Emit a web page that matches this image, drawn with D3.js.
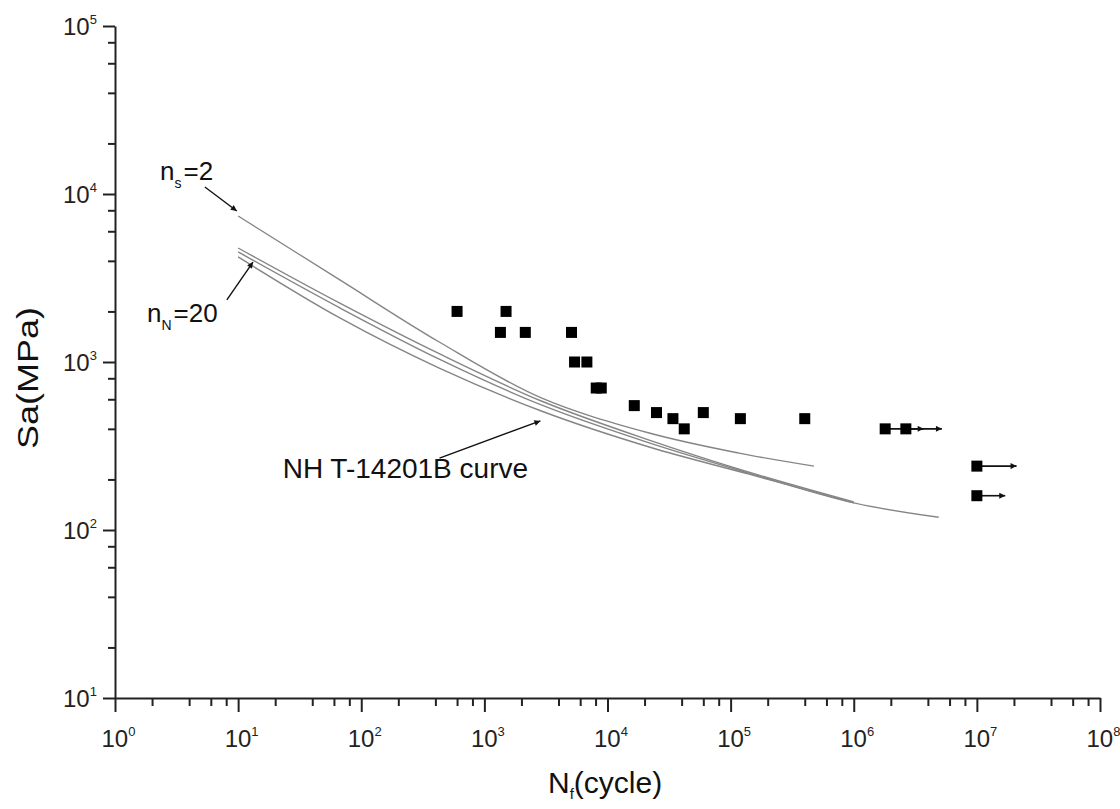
<!DOCTYPE html>
<html>
<head>
<meta charset="utf-8">
<script src="https://cdn.jsdelivr.net/npm/d3@7"></script>
<style>
  html, body { margin: 0; padding: 0; background: #fff; }
  svg { display: block; }
  text { font-family: "Liberation Sans", Arial, Helvetica, sans-serif; fill: #111; }
</style>
</head>
<body>
<svg id="chart" width="1120" height="809"></svg>
<script>
// ---------------- data ----------------
const xTickExps = [0, 1, 2, 3, 4, 5, 6, 7, 8];
const yTickExps = [1, 2, 3, 4, 5];
const minorMultipliers = [2, 4, 6, 8];

// experimental fatigue points
const testN = [600, 1500, 1350, 2150, 5100, 5400, 6800, 8100, 8900, 16500, 25000, 34000, 42000, 60000, 120000, 400000, 1.8e6, 2.65e6, 1e7, 1e7];
const testS = [2000, 2000, 1500, 1500, 1500, 1000, 1000, 700, 700, 550, 500, 460, 400, 500, 460, 460, 400, 400, 240, 160];

// run-outs (arrows)
const runoutN = [1.8e6, 2.65e6, 1e7, 1e7];
const runoutS = [400, 400, 240, 160];
const runoutEndN = [3.7e6, 5.2e6, 2.1e7, 1.7e7];

// design curves
const curveA_N = [10, 67, 430, 2900, 21800, 117000, 475000];        // n_s = 2
const curveA_S = [7400, 3080, 1315, 611, 378, 287, 240];
const curveB_N = [10, 67, 430, 2900, 21800, 141000, 1e6];
const curveB_S = [4770, 2240, 1120, 586, 343, 221, 147];
const curveC_N = [10, 67, 430, 2900, 21800, 141000, 1e6, 4.9e6];
const curveC_S = [4520, 2100, 1040, 555, 330, 218, 145, 119];
const curveD_N = [10, 67, 430, 2900, 21800, 141000, 1e6];
const curveD_S = [4220, 1830, 920, 511, 312, 215, 145];

// annotations (data space)
const annoLabels = ["n_s=2", "n_N=20", "NH T-14201B curve"];
const annoTextN = [2.32, 1.82, 23.0];
const annoTextS = [12100, 1730, 204];
const annoTailN = [5.37, 8.1, 432];
const annoTailS = [11000, 2340, 268];
const annoTipN = [9.76, 13.2, 2850];
const annoTipS = [7920, 3935, 446];

// ---------------- chart ----------------
const svg = d3.select("#chart");
const x = d3.scaleLog().domain([1, 1e8]).range([115, 1100]);
const y = d3.scaleLog().domain([10, 1e5]).range([698, 26]);

svg.append("defs").append("marker")
  .attr("id", "ah").attr("viewBox", "0 0 10 10")
  .attr("refX", 10).attr("refY", 5)
  .attr("markerWidth", 10).attr("markerHeight", 6)
  .attr("markerUnits", "userSpaceOnUse")
  .attr("orient", "auto")
  .append("path").attr("d", "M0,0 L10,5 L0,10 Z").attr("fill", "#111");

function tickVals(exps) {
  const v = [];
  exps.forEach((e, i) => {
    v.push(Math.pow(10, e));
    if (i < exps.length - 1) minorMultipliers.forEach(m => v.push(m * Math.pow(10, e)));
  });
  return v;
}
const isMajor = v => Math.abs(Math.log10(v) - Math.round(Math.log10(v))) < 1e-9;

// x axis
const gx = svg.append("g").attr("transform", "translate(0,698)")
  .call(d3.axisBottom(x).tickValues(tickVals(xTickExps)).tickFormat("").tickSizeOuter(0));
gx.selectAll(".tick line").attr("y2", d => isMajor(d) ? 14 : 8);
gx.selectAll("line, path").attr("stroke", "#222").attr("stroke-width", 2);

// y axis
const gy = svg.append("g").attr("transform", "translate(115,0)")
  .call(d3.axisLeft(y).tickValues(tickVals(yTickExps)).tickFormat("").tickSizeOuter(0));
gy.selectAll(".tick line").attr("x2", d => isMajor(d) ? -12 : -7);
gy.selectAll("line, path").attr("stroke", "#222").attr("stroke-width", 2);

// tick labels
const xl = svg.append("g").selectAll("text").data(xTickExps).join("text")
  .attr("x", d => x(Math.pow(10, d)) - 13.5).attr("y", 747)
  .attr("font-size", 24).style("fill", "#222");
xl.append("tspan").text("10");
xl.append("tspan").attr("font-size", 13).attr("dy", -11).text(d => d);

const yl = svg.append("g").selectAll("text").data(yTickExps).join("text")
  .attr("x", 63).attr("y", d => y(Math.pow(10, d)) + 9)
  .attr("font-size", 24).style("fill", "#222");
yl.append("tspan").text("10");
yl.append("tspan").attr("font-size", 13).attr("dy", -11).text(d => d);

// axis titles
const xt = svg.append("text").attr("x", 548).attr("y", 793).attr("font-size", 30);
xt.append("tspan").text("N");
xt.append("tspan").attr("font-size", 15).attr("dy", 6).text("f");
xt.append("tspan").attr("dy", -6).text("(cycle)");

svg.append("text")
  .attr("transform", "translate(38,378) rotate(-90)")
  .attr("text-anchor", "middle").attr("font-size", 30)
  .attr("textLength", 142).attr("lengthAdjust", "spacingAndGlyphs")
  .text("Sa(MPa)");

// curves
const line = d3.line().x(d => x(d[0])).y(d => y(d[1])).curve(d3.curveCatmullRom.alpha(0.5));
const curves = [
  [curveA_N, curveA_S], [curveB_N, curveB_S], [curveC_N, curveC_S], [curveD_N, curveD_S]
];
svg.append("g").selectAll("path").data(curves).join("path")
  .attr("d", c => line(c[0].map((n, i) => [n, c[1][i]])))
  .attr("fill", "none").attr("stroke", "#858585").attr("stroke-width", 1.4);

// run-out arrows
svg.append("g").selectAll("line").data(runoutN).join("line")
  .attr("x1", (d, i) => x(d)).attr("y1", (d, i) => y(runoutS[i]))
  .attr("x2", (d, i) => x(runoutEndN[i])).attr("y2", (d, i) => y(runoutS[i]))
  .attr("stroke", "#111").attr("stroke-width", 1.6).attr("marker-end", "url(#ah)");

// test points
const sq = 11;
svg.append("g").selectAll("rect").data(testN).join("rect")
  .attr("x", (d, i) => x(d) - sq / 2).attr("y", (d, i) => y(testS[i]) - sq / 2)
  .attr("width", sq).attr("height", sq).attr("fill", "#000");

// annotations
svg.append("g").selectAll("line").data(annoLabels).join("line")
  .attr("x1", (d, i) => x(annoTailN[i])).attr("y1", (d, i) => y(annoTailS[i]))
  .attr("x2", (d, i) => x(annoTipN[i])).attr("y2", (d, i) => y(annoTipS[i]))
  .attr("stroke", "#111").attr("stroke-width", 1.4).attr("marker-end", "url(#ah)");

annoLabels.forEach((lab, i) => {
  const t = svg.append("text").attr("x", x(annoTextN[i])).attr("y", y(annoTextS[i]))
    .attr("font-size", i === 2 ? 28 : 26);
  if (lab.includes("_")) {
    const m = lab.match(/^(\w)_(\w)(.*)$/);
    t.append("tspan").text(m[1]);
    t.append("tspan").attr("font-size", 14).attr("dy", 8).text(m[2]);
    t.append("tspan").attr("dy", -8).attr("dx", 2).text(m[3]);
  } else {
    t.text(lab);
  }
});
</script>
</body>
</html>
